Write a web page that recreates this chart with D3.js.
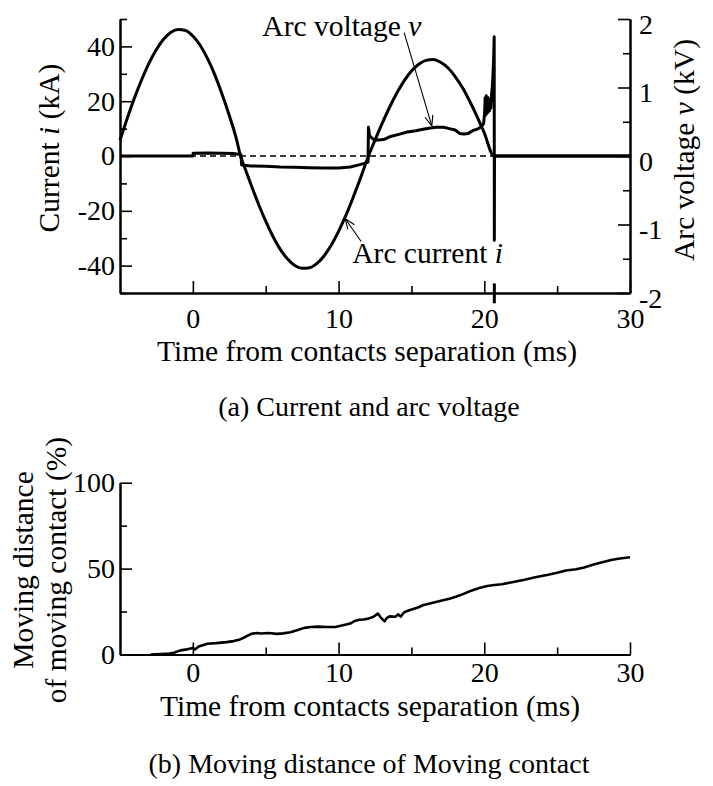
<!DOCTYPE html>
<html>
<head>
<meta charset="utf-8">
<script src="https://cdn.jsdelivr.net/npm/d3@7/dist/d3.min.js"></script>
<style>
  body { margin: 0; background: #fff; }
  svg { display: block; font-family: "Liberation Serif", "Times New Roman", serif; }
</style>
</head>
<body>
<svg class="svg"></svg>
<script>
// ticks
const timeTicks = [0, 10, 20, 30];
const timeMinorTicks = [5, 15, 25];
const currentTicks = [-40, -20, 0, 20, 40];
const currentMinorTicks = [-50, -30, -10, 10, 30, 50];
const voltageTicks = [-2, -1, 0, 1, 2];
const voltageMinorTicks = [-1.5, -0.5, 0.5, 1.5];
const travelTicks = [0, 50, 100];
const travelMinorTicks = [25, 75];

// arc current i (kA) vs time (ms)
const arcCurrent = [
  [-5, 5.8], [-4.5, 13.8], [-4, 21.3], [-3.5, 28.0], [-3, 34.0], [-2.5, 38.9],
  [-2, 42.7], [-1.5, 45.2], [-1, 46.2], [-0.5, 45.8], [0, 43.8], [0.5, 40.4],
  [1, 35.6], [1.5, 29.7], [2, 22.6], [2.5, 14.8], [3, 6.0], [3.27, 0],
  [3.5, -3.4], [4, -10.6], [4.5, -17.5], [5, -23.8], [5.5, -29.4], [6, -34.1],
  [6.5, -37.6], [7, -40.0], [7.5, -41.0], [8, -40.8], [8.5, -39.3], [9, -36.5],
  [9.5, -32.5], [10, -27.5], [10.5, -21.7], [11, -15.1], [11.5, -8.1], [12.05, 0],
  [12.5, 5.8], [13, 12.0], [13.5, 17.8], [14, 23.0], [14.5, 27.4], [15, 31.0],
  [15.5, 33.5], [16, 34.9], [16.5, 35.2], [17, 34.2], [17.5, 32.2], [18, 29.0],
  [18.5, 25.0], [19, 20.0], [19.5, 14.5], [20, 8.4], [20.66, 0], [25, 0], [30, 0]
];

// arc voltage v (kV) vs time (ms)
const arcVoltage = [
  [-5, 0], [0, 0], [0.02, 0.04], [1, 0.045], [2, 0.04], [2.8, 0.035], [3.3, 0.02],
  [3.35, -0.13], [4, -0.145], [5, -0.15], [6, -0.16], [7, -0.165], [8, -0.17],
  [9, -0.175], [10, -0.175], [10.8, -0.16], [11.4, -0.13], [11.9, -0.1], [12.02, -0.09],
  [12.05, 0.42], [12.12, 0.3], [12.3, 0.26], [12.5, 0.23], [13.1, 0.24], [13.5, 0.28],
  [14.2, 0.32], [14.7, 0.35], [15.3, 0.37], [15.8, 0.39], [16.3, 0.41], [16.7, 0.42],
  [17.2, 0.42], [17.6, 0.4], [18.0, 0.38], [18.3, 0.33], [18.6, 0.32], [18.9, 0.33],
  [19.2, 0.37], [19.5, 0.39], [19.75, 0.42], [19.95, 0.47], [20.02, 0.62], [20.06, 0.85],
  [20.1, 0.6], [20.14, 0.88], [20.18, 0.62], [20.22, 0.86], [20.26, 0.64], [20.3, 0.84],
  [20.35, 0.66], [20.4, 0.8], [20.45, 0.7], [20.5, 0.9], [20.55, 1.0], [20.6, 1.2],
  [20.64, 1.4], [20.68, 1.74], [20.69, -1.23], [20.7, 0], [30, 0]
];
// piece of the spike that shows below the time axis
const voltageSpikeTail = [[20.69, -1.86], [20.69, -2.15]];

// moving distance of moving contact (%) vs time (ms)
const contactTravel = [
  [-2.9, 0], [-2.2, 0.3], [-1.6, 0.6], [-1.3, 1.0], [-0.85, 2.4], [-0.4, 3.0], [0, 3.8],
  [0.15, 2.9], [0.4, 4.6], [1.0, 6.3], [1.6, 6.6], [2.3, 7.2], [2.8, 7.8], [3.24, 8.8],
  [3.6, 10.2], [4.0, 12.0], [4.4, 12.5], [4.66, 12.2], [5.2, 12.5], [5.76, 12.0],
  [6.2, 12.3], [6.7, 13.0], [7.2, 14.2], [7.65, 15.5], [8.1, 16.0], [8.6, 16.2],
  [9.2, 16.0], [9.85, 16.1], [10.3, 17.0], [10.8, 18.0], [11.1, 19.5], [11.4, 20.2],
  [11.7, 20.4], [12.05, 20.9], [12.4, 22.0], [12.7, 23.8], [12.9, 21.5], [13.16, 19.3],
  [13.3, 21.2], [13.5, 22.2], [13.9, 22.0], [14.1, 23.4], [14.26, 22.0], [14.5, 24.6],
  [14.9, 25.9], [15.4, 27.2], [15.83, 28.8], [16.4, 30.0], [17.1, 31.4], [17.6, 32.4],
  [18.0, 33.5], [18.5, 35.0], [19.0, 36.8], [19.6, 38.5], [20.2, 39.9], [20.7, 40.5],
  [21.2, 40.9], [22.0, 42.2], [22.76, 43.5], [23.5, 45.0], [24.3, 46.3], [25.0, 47.6],
  [25.6, 48.9], [26.3, 49.6], [26.85, 50.6], [27.5, 52.4], [28.1, 53.7], [28.7, 55.0],
  [29.3, 55.9], [30, 56.6]
];

const width = 713;
const height = 786;
const tickFont = 28;
const titleFont = 29.5;

const svg = d3.select('.svg')
  .attr('width', width)
  .attr('height', height);

svg.append('rect').attr('width', width).attr('height', height).attr('fill', '#fff');

const x = d3.scaleLinear().domain([-5, 30]).range([120, 630]);
const yCur = d3.scaleLinear().domain([-50, 50]).range([293, 19]);
const yVolt = d3.scaleLinear().domain([-2, 2]).range([293, 19]);
const yTravel = d3.scaleLinear().domain([0, 100]).range([654.5, 482.7]);

// plain hyphen for negatives, like the original figure
const tickLabel = d => String(d);

function styleAxis(g) {
  g.select('.domain').attr('stroke', '#000').attr('stroke-width', 2);
  g.selectAll('.tick line').attr('stroke', '#000').attr('stroke-width', 1.6);
  g.selectAll('text').attr('font-size', tickFont).attr('fill', '#000');
  g.attr('font-family', null).attr('font-size', null);
}

// makeAxis: () => fresh d3 axis generator
function drawAxis(makeAxis, major, minor, transform, padding) {
  svg.append('g')
    .attr('transform', transform)
    .call(makeAxis().tickValues(minor).tickFormat('').tickSizeInner(-7).tickSizeOuter(0))
    .call(styleAxis);
  const g = svg.append('g')
    .attr('transform', transform)
    .call(makeAxis().tickValues(major).tickFormat(tickLabel).tickSizeInner(-12).tickSizeOuter(0).tickPadding(padding))
    .call(styleAxis);
  return g;
}

const lineWidth = 3;

// ---------- (a) current and arc voltage ----------
drawAxis(() => d3.axisBottom(x), timeTicks, timeMinorTicks, `translate(0,${yCur(-50)})`, 15);
drawAxis(() => d3.axisLeft(yCur), currentTicks, currentMinorTicks, `translate(${x(-5)},0)`, 5);
const rightAx = drawAxis(() => d3.axisRight(yVolt), voltageTicks, voltageMinorTicks, `translate(${x(30)},0)`, 9);
rightAx.selectAll('text').attr('dy', '0.5em');

// zero reference
svg.append('line')
  .attr('x1', x(-5)).attr('x2', x(30))
  .attr('y1', yCur(0)).attr('y2', yCur(0))
  .attr('stroke', '#000')
  .attr('stroke-width', 1.4)
  .attr('stroke-dasharray', '6,4');

const curLine = d3.line()
  .x(d => x(d[0]))
  .y(d => yCur(d[1]))
  .curve(d3.curveMonotoneX);

const voltLine = d3.line()
  .x(d => x(d[0]))
  .y(d => yVolt(d[1]));

svg.append('path')
  .datum(arcCurrent)
  .attr('d', curLine)
  .attr('fill', 'none')
  .attr('stroke', '#000')
  .attr('stroke-width', lineWidth)
  .attr('stroke-linejoin', 'round');

svg.append('path')
  .datum(arcVoltage)
  .attr('d', voltLine)
  .attr('fill', 'none')
  .attr('stroke', '#000')
  .attr('stroke-width', lineWidth)
  .attr('stroke-linejoin', 'round');

svg.append('path')
  .datum(voltageSpikeTail)
  .attr('d', voltLine)
  .attr('fill', 'none')
  .attr('stroke', '#000')
  .attr('stroke-width', lineWidth);

// annotation arrows
function arrow(x0, y0, x1, y1) {
  const a = Math.atan2(y1 - y0, x1 - x0);
  const len = 11, spread = 0.38;
  const g = svg.append('g').attr('stroke', '#000').attr('stroke-width', 1.1).attr('fill', 'none');
  g.append('line').attr('x1', x0).attr('y1', y0).attr('x2', x1).attr('y2', y1);
  [-spread, spread].forEach(s => {
    g.append('line')
      .attr('x1', x1).attr('y1', y1)
      .attr('x2', x1 - len * Math.cos(a + s))
      .attr('y2', y1 - len * Math.sin(a + s));
  });
}

arrow(x(14.5), yVolt(1.8), x(16.4), yVolt(0.44));
arrow(x(11.55), yCur(-31.2), x(10.46), yCur(-22.9));

const vLabel = svg.append('text')
  .attr('x', x(4.77)).attr('y', yVolt(1.75))
  .attr('font-size', titleFont);
vLabel.append('tspan').text('Arc voltage ');
vLabel.append('tspan').attr('font-style', 'italic').text('v');

const iLabel = svg.append('text')
  .attr('x', x(10.94)).attr('y', yCur(-39.2))
  .attr('font-size', titleFont);
iLabel.append('tspan').text('Arc current ');
iLabel.append('tspan').attr('font-style', 'italic').text('i');

// axis titles
svg.append('text')
  .attr('x', 367).attr('y', 361)
  .attr('text-anchor', 'middle')
  .attr('font-size', titleFont)
  .text('Time from contacts separation (ms)');

const curTitle = svg.append('text')
  .attr('transform', 'translate(59,148) rotate(-90)')
  .attr('text-anchor', 'middle')
  .attr('font-size', titleFont);
curTitle.append('tspan').text('Current ');
curTitle.append('tspan').attr('font-style', 'italic').text('i');
curTitle.append('tspan').text(' (kA)');

const voltTitle = svg.append('text')
  .attr('transform', 'translate(694,150) rotate(-90)')
  .attr('text-anchor', 'middle')
  .attr('font-size', titleFont);
voltTitle.append('tspan').text('Arc voltage ');
voltTitle.append('tspan').attr('font-style', 'italic').text('v');
voltTitle.append('tspan').text(' (kV)');

svg.append('text')
  .attr('x', 369).attr('y', 416)
  .attr('text-anchor', 'middle')
  .attr('font-size', 28)
  .text('(a) Current and arc voltage');

// ---------- (b) moving distance ----------
drawAxis(() => d3.axisBottom(x), timeTicks, timeMinorTicks, `translate(0,${yTravel(0)})`, 8);
drawAxis(() => d3.axisLeft(yTravel), travelTicks, travelMinorTicks, `translate(${x(-5)},0)`, 5);

svg.append('path')
  .datum(contactTravel)
  .attr('d', d3.line().x(d => x(d[0])).y(d => yTravel(d[1])))
  .attr('fill', 'none')
  .attr('stroke', '#000')
  .attr('stroke-width', 2.6)
  .attr('stroke-linejoin', 'round');

svg.append('text')
  .attr('x', 370).attr('y', 716)
  .attr('text-anchor', 'middle')
  .attr('font-size', titleFont)
  .text('Time from contacts separation (ms)');

svg.append('text')
  .attr('transform', 'translate(33,570) rotate(-90)')
  .attr('text-anchor', 'middle')
  .attr('font-size', titleFont)
  .text('Moving distance');

svg.append('text')
  .attr('transform', 'translate(66,570) rotate(-90)')
  .attr('text-anchor', 'middle')
  .attr('font-size', titleFont)
  .text('of moving contact (%)');

svg.append('text')
  .attr('x', 369).attr('y', 773)
  .attr('text-anchor', 'middle')
  .attr('font-size', 28)
  .text('(b) Moving distance of Moving contact');
</script>
</body>
</html>
